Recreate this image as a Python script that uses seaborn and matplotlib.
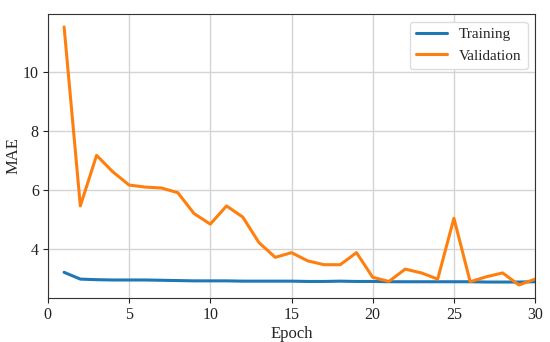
import matplotlib
matplotlib.use("Agg")
import matplotlib.pyplot as plt
import seaborn as sns
import pandas as pd

epochs = list(range(1, 31))
training = [3.20, 2.97, 2.95, 2.94, 2.94, 2.94, 2.93, 2.92, 2.91, 2.91,
            2.91, 2.90, 2.90, 2.90, 2.90, 2.89, 2.89, 2.90, 2.89, 2.89,
            2.88, 2.88, 2.88, 2.88, 2.88, 2.88, 2.87, 2.87, 2.87, 2.88]
validation = [11.55, 5.46, 7.18, 6.62, 6.17, 6.10, 6.07, 5.91, 5.20, 4.84,
              5.46, 5.08, 4.21, 3.71, 3.87, 3.59, 3.46, 3.46, 3.87, 3.03,
              2.89, 3.31, 3.18, 2.97, 5.04, 2.88, 3.05, 3.18, 2.77, 2.97]

df = pd.DataFrame({"Epoch": epochs * 2,
                   "MAE": training + validation,
                   "set": ["Training"] * 30 + ["Validation"] * 30})

sns.set_style("ticks")
plt.rcParams["font.family"] = ["Liberation Serif", "DejaVu Serif"]

fig = plt.figure(figsize=(5.5, 3.42), dpi=100)
ax = fig.add_axes([0.087, 0.129, 0.886, 0.83])
sns.lineplot(data=df, x="Epoch", y="MAE", hue="set",
             palette=["#1f77b4", "#ff7f0e"], linewidth=2.2, ax=ax)
ax.set_xlim(0, 30)
ax.grid(True, color="#d4d4d4", linewidth=1)
for s in ax.spines.values():
    s.set_color("#333333")
ax.tick_params(labelsize=11.5, colors="#222222", length=3.5, pad=3)
ax.set_xlabel("Epoch", fontsize=12, labelpad=2)
ax.set_ylabel("MAE", fontsize=12, labelpad=1)
ax.legend(title=None, loc="upper right", fontsize=11, framealpha=1,
          edgecolor="#dddddd")
fig.savefig("out.png", dpi=100)
